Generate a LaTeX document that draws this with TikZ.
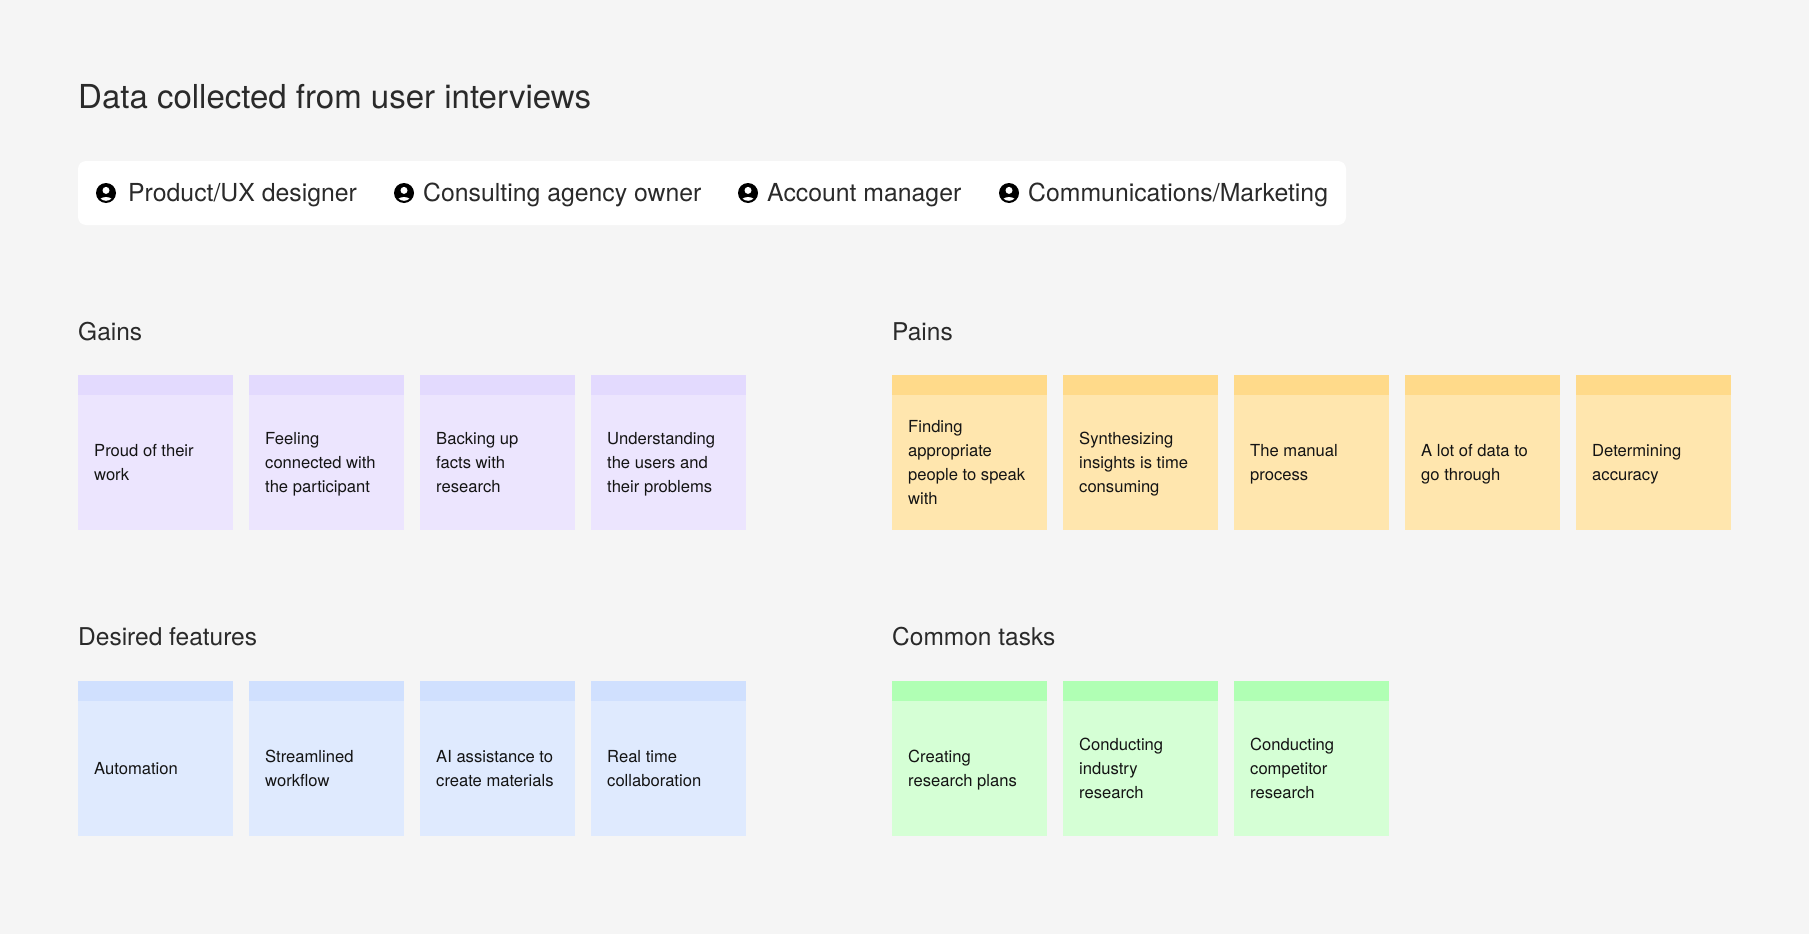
\documentclass[tikz,border=0pt]{standalone}
\usepackage{fontspec}
\setmainfont{TeX Gyre Heros}
\definecolor{bgc}{HTML}{F5F5F5}
\definecolor{ink}{HTML}{2A2A2A}
\definecolor{cardink}{HTML}{141414}
\definecolor{pb}{HTML}{ECE5FE}\definecolor{ph}{HTML}{E3DAFE}
\definecolor{yb}{HTML}{FFE6AE}\definecolor{yh}{HTML}{FFDA8A}
\definecolor{bb}{HTML}{DFEAFE}\definecolor{bh}{HTML}{D0E0FE}
\definecolor{gb}{HTML}{D5FFD5}\definecolor{gh}{HTML}{B0FFB4}
\tikzset{
  x=1pt,y=-1pt,
  titletext/.style={anchor=base west,inner sep=0,font=\fontsize{33}{38}\selectfont,text=ink},
  roletext/.style={anchor=base west,inner sep=0,font=\fontsize{24.8}{30}\selectfont,text=ink},
  headtext/.style={anchor=base west,inner sep=0,font=\fontsize{24.5}{30}\selectfont,text=ink},
  cardtext/.style={anchor=west,inner sep=0,align=left,font=\fontsize{16.6}{24}\selectfont,text=cardink},
  cardbody/.style={fill=#1,draw=none},
  cardhead/.style={fill=#1,draw=none},
}
\newcommand{\mycard}[6]{% name, x, y, body, head, text
  \fill[cardbody=#4] (#2,#3) rectangle ++(155,155);
  \fill[cardhead=#5] (#2,#3) rectangle ++(155,20);
  \path (#2,#3) ++(16,88.7) node[cardtext] (#1) {\strut #6\strut};
}
\newcommand{\myicon}[2]{% centre x, y
  \begin{scope}[shift={(#1,#2)}]
    \fill[black] (0,0) circle (10);
    \fill[white] (0,-2.6) circle (3.5);
    \begin{scope}
      \clip (0,0) circle (7.8);
      \fill[white] (0,11.5) ellipse (9 and 7.5);
    \end{scope}
  \end{scope}
}
\begin{document}
\begin{tikzpicture}
\useasboundingbox (0,0) rectangle (1809,934);
\fill[bgc] (0,0) rectangle (1809,934);
\node[titletext] (title) at (78,108) {Data collected from user interviews};
\fill[white,rounded corners=8] (78,161) rectangle (1346,225);
\myicon{106}{193}\node[roletext] (r1) at (128,201) {Product/UX designer};
\myicon{404}{193}\node[roletext] (r2) at (423,201) {Consulting agency owner};
\myicon{748}{193}\node[roletext] (r3) at (767,201) {Account manager};
\myicon{1009}{193}\node[roletext] (r4) at (1028,201) {Communications/Marketing};
\node[headtext] (gains) at (78,340) {Gains};
\node[headtext] (pains) at (892,340) {Pains};
\node[headtext] (desired) at (78,645) {Desired features};
\node[headtext] (tasks) at (892,645) {Common tasks};
\mycard{g1}{78}{375}{pb}{ph}{Proud of their\\work}
\mycard{g2}{249}{375}{pb}{ph}{Feeling\\connected with\\the participant}
\mycard{g3}{420}{375}{pb}{ph}{Backing up\\facts with\\research}
\mycard{g4}{591}{375}{pb}{ph}{Understanding\\the users and\\their problems}
\mycard{p1}{892}{375}{yb}{yh}{Finding\\appropriate\\people to speak\\with}
\mycard{p2}{1063}{375}{yb}{yh}{Synthesizing\\insights is time\\consuming}
\mycard{p3}{1234}{375}{yb}{yh}{The manual\\process}
\mycard{p4}{1405}{375}{yb}{yh}{A lot of data to\\go through}
\mycard{p5}{1576}{375}{yb}{yh}{Determining\\accuracy}
\mycard{d1}{78}{681}{bb}{bh}{Automation}
\mycard{d2}{249}{681}{bb}{bh}{Streamlined\\workflow}
\mycard{d3}{420}{681}{bb}{bh}{AI assistance to\\create materials}
\mycard{d4}{591}{681}{bb}{bh}{Real time\\collaboration}
\mycard{t1}{892}{681}{gb}{gh}{Creating\\research plans}
\mycard{t2}{1063}{681}{gb}{gh}{Conducting\\industry\\research}
\mycard{t3}{1234}{681}{gb}{gh}{Conducting\\competitor\\research}
\end{tikzpicture}
\end{document}
